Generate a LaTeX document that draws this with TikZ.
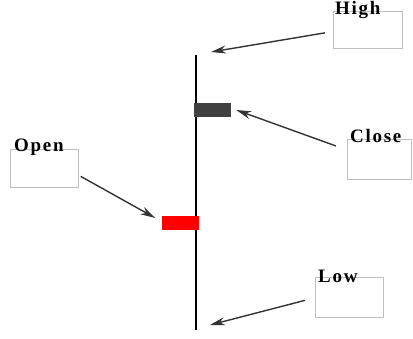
\documentclass[tikz,border=0pt]{standalone}
\usepackage{fontspec}
\setmainfont{Liberation Serif}
\newfontfamily\tagfont[LetterSpace=9]{Liberation Serif}
\usetikzlibrary{arrows.meta}
\tikzset{
  tag/.style={draw=gray!50, line width=0.7pt, inner sep=0pt, anchor=north west},
  taglabel/.style={anchor=base west, inner sep=0pt, font=\tagfont\fontsize{19}{20}\selectfont\bfseries},
  pointer/.style={-{Stealth[length=15pt,width=8pt]}, line width=1.4pt, draw=black!80},
  bar/.style={inner sep=0pt, minimum width=37pt, minimum height=14pt}
}
\begin{document}
\begin{tikzpicture}[x=1pt,y=-1pt]
        \useasboundingbox (0,0) rectangle (413,339);
        \coordinate (top)    at (196,55);
        \coordinate (bottom) at (196,330);
        \draw[line width=2pt] (top) -- (bottom);
        \node[bar,fill=black!75] (close) at (212.5,110) {};
        \node[bar,fill=red]      (open)  at (180,223)   {};

        \node[tag,minimum width=69pt,minimum height=37pt] (highbox)  at (333,11)  {};
        \node[tag,minimum width=68pt,minimum height=38pt] (openbox)  at (10,149)  {};
        \node[tag,minimum width=64pt,minimum height=40pt] (closebox) at (347,139) {};
        \node[tag,minimum width=68pt,minimum height=40pt] (lowbox)   at (315,277) {};

        \node[taglabel] (highlabel)  at (335,15)  {High};
        \node[taglabel] (openlabel)  at (14,152)  {Open};
        \node[taglabel] (closelabel) at (350,143) {Close};
        \node[taglabel] (lowlabel)   at (318,283) {Low};

        \draw[pointer] ([shift={(-8,3)}]highbox.west)        to ([shift={(15,-3)}]top);
        \draw[pointer] ([shift={(-11,7)}]closebox.north west) to ([xshift=5pt]close.east);
        \draw[pointer] ([shift={(2,8)}]openbox.east)          to ([shift={(-6,-5)}]open.west);
        \draw[pointer] ([shift={(-10,3)}]lowbox.west)         to ([shift={(14,-5)}]bottom);
      \end{tikzpicture}
\end{document}
